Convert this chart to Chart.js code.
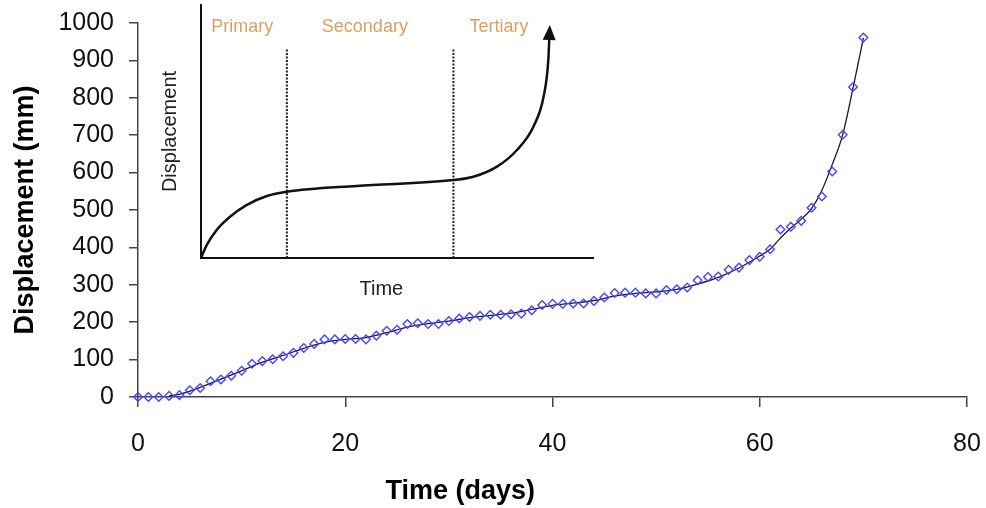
<!DOCTYPE html>
<html>
<head>
<meta charset="utf-8">
<script src="https://cdn.jsdelivr.net/npm/chart.js@4/dist/chart.umd.min.js"></script>
<style>
  html, body { margin: 0; padding: 0; background: #fff; }
  #wrap { position: relative; width: 986px; height: 508px; }
  #main { position: absolute; left: 0; top: 0; }
  #inset { position: absolute; left: 150px; top: 0; }
</style>
</head>
<body>
<div id="wrap">
  <canvas id="main" width="986" height="508"></canvas>
  <canvas id="inset" width="450" height="310"></canvas>
</div>
<script>
// Measured slope displacement, one reading per day
const days = [
  0, 1, 2, 3, 4, 5, 6, 7, 8, 9,
  10, 11, 12, 13, 14, 15, 16, 17, 18, 19,
  20, 21, 22, 23, 24, 25, 26, 27, 28, 29,
  30, 31, 32, 33, 34, 35, 36, 37, 38, 39,
  40, 41, 42, 43, 44, 45, 46, 47, 48, 49,
  50, 51, 52, 53, 54, 55, 56, 57, 58, 59,
  60, 61, 62, 63, 64, 65, 66, 67, 68, 69,
  70
];
const displacement = [
  0, 0, 0, 3, 5, 18, 24, 42, 47, 57,
  70, 89, 96, 101, 109, 118, 131, 142, 154, 154,
  155, 155, 154, 164, 177, 180, 195, 197, 195, 195,
  203, 210, 214, 217, 220, 220, 221, 223, 232, 246,
  249, 249, 250, 250, 257, 266, 278, 279, 279, 277,
  277, 286, 288, 293, 312, 321, 322, 340, 346, 366,
  375, 395, 448, 455, 471, 506, 536, 603, 701, 829,
  961
];

// Smoothed trend through the readings
const trendDays = [3, 4, 6, 8, 10, 12, 14, 16, 18, 20, 22, 24, 26, 28, 30, 32, 34, 36, 38, 40,
  42, 44, 46, 48, 50, 52, 54, 56, 58, 60, 61, 62, 63, 64, 65, 66, 67, 68, 69, 70];
const trendDisp = [3, 7, 26, 48, 70, 93, 111, 130, 146, 154, 159, 172, 187, 196, 203, 212, 218, 224, 234, 245,
  251, 258, 270, 277, 281, 288, 302, 320, 345, 377, 395, 425, 452, 475, 504, 553, 622, 701, 826, 960];

const xTicks = [0, 20, 40, 60, 80];
const yTicks = [0, 100, 200, 300, 400, 500, 600, 700, 800, 900, 1000];
const xTitle = 'Time (days)';
const yTitle = 'Displacement (mm)';

// Idealised creep curve (unitless time vs displacement)
const creepTime = [0, 1.45, 4.0, 7.4, 11.6, 16.8, 21.9, 39.7, 64.4, 69.5, 75.5, 80.6, 84.8, 87.4, 88.6, 88.9];
const creepDisp = [0, 5.1, 11.1, 16.3, 20.9, 24.5, 26.2, 28.5, 30.8, 32.1, 36.1, 42.7, 51.9, 63.8, 78.3, 88.9];
const phaseNames = ['Primary', 'Secondary', 'Tertiary'];
const phaseLabelX = [10.5, 41.8, 76.0];
const phaseBounds = [21.9, 64.4];

const FONT = "'Liberation Sans', Arial, sans-serif";
Chart.defaults.font.family = FONT;

// Bottom axis title, placed under the plot
const xTitlePlugin = {
  id: 'xTitle',
  afterDraw(chart) {
    const ctx = chart.ctx;
    const xs = chart.scales.x;
    ctx.save();
    ctx.font = 'bold 27px ' + FONT;
    ctx.fillStyle = '#000';
    ctx.textAlign = 'center';
    ctx.textBaseline = 'middle';
    ctx.fillText(xTitle, xs.getPixelForValue(31.1), 492);
    ctx.restore();
  }
};

new Chart(document.getElementById('main'), {
  type: 'scatter',
  data: {
    datasets: [
      {
        label: 'Measured',
        data: days.map((d, i) => ({ x: d, y: displacement[i] })),
        pointStyle: 'rectRot',
        pointRadius: 4.3,
        pointBorderWidth: 1.4,
        borderColor: '#4646FF',
        backgroundColor: 'rgba(255,255,255,0)',
        showLine: false,
        order: 1,
        clip: false
      },
      {
        label: 'Trend',
        data: trendDays.map((d, i) => ({ x: d, y: trendDisp[i] })),
        showLine: true,
        borderColor: '#1a1a1a',
        borderWidth: 1.3,
        pointRadius: 0,
        cubicInterpolationMode: 'monotone',
        order: 2,
        clip: false
      }
    ]
  },
  options: {
    responsive: false,
    animation: false,
    events: [],
    layout: { padding: { left: 0, right: 19, top: 23, bottom: 0 } },
    plugins: { legend: { display: false }, tooltip: { enabled: false } },
    scales: {
      x: {
        type: 'linear',
        min: 0, max: 80,
        afterBuildTicks(s) { s.ticks = xTicks.map(v => ({ value: v })); },
        afterFit(s) { s.height = 111; s.paddingLeft = 0; s.paddingRight = 0; },
        ticks: { color: '#111', font: { size: 25 }, padding: 22, callback: v => String(v) },
        grid: { drawOnChartArea: false, tickLength: 10, color: '#444', lineWidth: 1.5 },
        border: { color: '#444', width: 1.5 }
      },
      y: {
        type: 'linear',
        min: 0, max: 1000,
        afterBuildTicks(s) { s.ticks = yTicks.map(v => ({ value: v })); },
        afterFit(s) { s.width = 138; s.paddingTop = 0; s.paddingBottom = 0; },
        ticks: { color: '#111', font: { size: 25 }, padding: 15, callback: v => String(v) },
        grid: { drawOnChartArea: false, tickLength: 9, color: '#444', lineWidth: 1.5 },
        border: { color: '#444', width: 1.5 },
        title: {
          display: true, text: yTitle, color: '#000',
          font: { size: 27, weight: 'bold' }, padding: { top: 9, bottom: 0 }
        }
      }
    }
  },
  plugins: [xTitlePlugin]
});

// Phase labels, arrow head and time label of the creep diagram
const insetDecor = {
  id: 'insetDecor',
  afterDatasetsDraw(chart) {
    const ctx = chart.ctx;
    const xs = chart.scales.x, ys = chart.scales.y;
    ctx.save();
    // arrow head at the end of the curve
    const pts = chart.getDatasetMeta(0).data;
    const p = pts[pts.length - 1], q = pts[pts.length - 2];
    let dx = p.x - q.x, dy = p.y - q.y;
    const len = Math.hypot(dx, dy); dx /= len; dy /= len;
    const tipX = p.x + dx * 8, tipY = p.y + dy * 8;
    const bx = p.x - dx * 7, by = p.y - dy * 7;
    ctx.fillStyle = '#111';
    ctx.beginPath();
    ctx.moveTo(tipX, tipY);
    ctx.lineTo(bx - dy * 6.5, by + dx * 6.5);
    ctx.lineTo(bx + dy * 6.5, by - dx * 6.5);
    ctx.closePath();
    ctx.fill();
    // phase names
    ctx.font = '18px ' + FONT;
    ctx.fillStyle = '#D9A066';
    ctx.textAlign = 'center';
    ctx.textBaseline = 'middle';
    phaseNames.forEach((n, i) => {
      ctx.fillText(n, xs.getPixelForValue(phaseLabelX[i]), ys.getPixelForValue(91.3));
    });
    // time label
    ctx.font = '20px ' + FONT;
    ctx.fillStyle = '#222';
    ctx.fillText('Time', xs.getPixelForValue(46), 289);
    ctx.restore();
  }
};

const dividerSets = phaseBounds.map(b => ({
  data: [{ x: b, y: 0 }, { x: b, y: 83 }],
  showLine: true,
  borderColor: '#222',
  borderWidth: 2,
  borderDash: [2, 1.5],
  pointRadius: 0
}));

new Chart(document.getElementById('inset'), {
  type: 'scatter',
  data: {
    datasets: [
      {
        data: creepTime.map((t, i) => ({ x: t, y: creepDisp[i] })),
        showLine: true,
        borderColor: '#111',
        borderWidth: 2.5,
        pointRadius: 0,
        cubicInterpolationMode: 'monotone',
        clip: false
      },
      ...dividerSets
    ]
  },
  options: {
    responsive: false,
    animation: false,
    events: [],
    layout: { padding: { left: 0, right: 7, top: 5, bottom: 0 } },
    plugins: { legend: { display: false }, tooltip: { enabled: false } },
    scales: {
      x: {
        type: 'linear', min: 0, max: 100,
        ticks: { display: false },
        grid: { display: false },
        border: { color: '#111', width: 2 },
        afterFit(s) { s.height = 52; s.paddingLeft = 0; s.paddingRight = 0; }
      },
      y: {
        type: 'linear', min: 0, max: 100,
        ticks: { display: false },
        grid: { display: false },
        border: { color: '#111', width: 2 },
        afterFit(s) { s.width = 51; s.paddingTop = 0; s.paddingBottom = 0; },
        title: {
          display: true, text: 'Displacement', color: '#222',
          font: { size: 20 }, padding: { top: 8, bottom: 0 }
        }
      }
    }
  },
  plugins: [insetDecor]
});
</script>
</body>
</html>
